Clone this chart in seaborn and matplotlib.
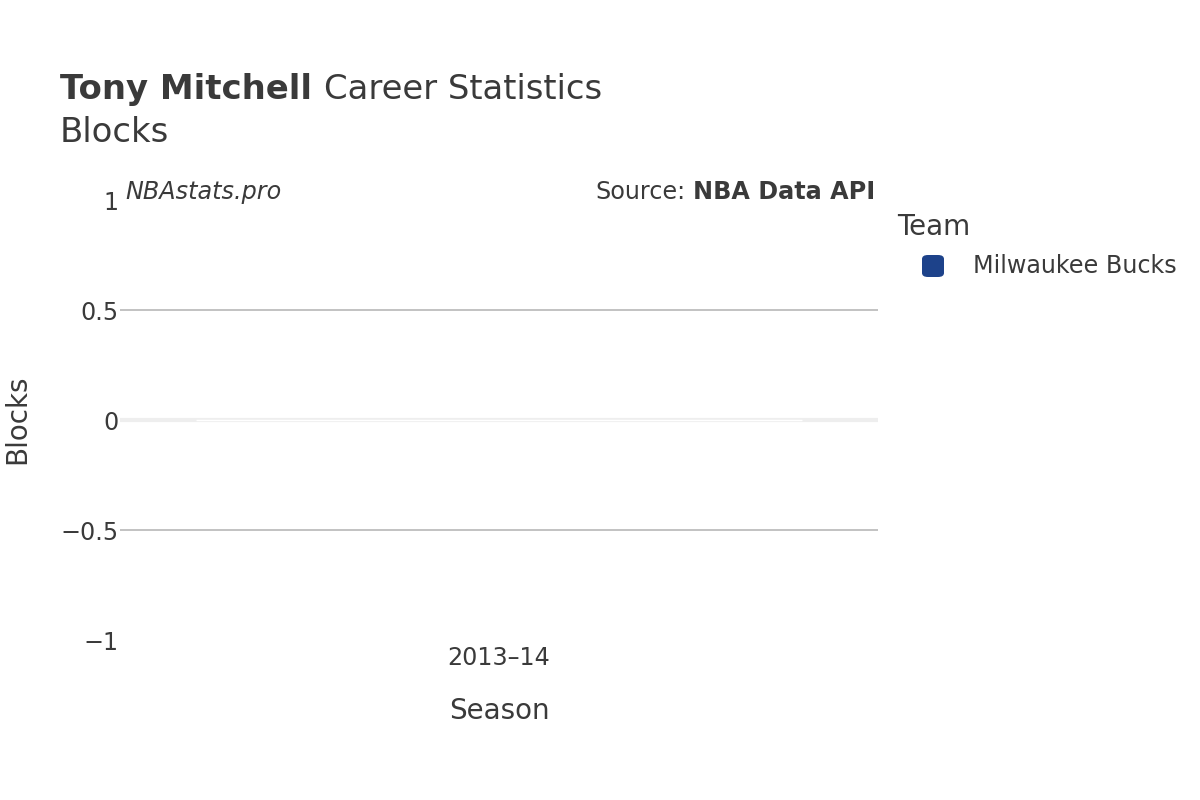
import matplotlib
matplotlib.use("Agg")
import matplotlib.pyplot as plt
import seaborn as sns
import pandas as pd
from matplotlib.patches import FancyBboxPatch

seasons = ["2013–14"]
blocks = [0.0]
teams = ["Milwaukee Bucks"]
team_colors = {"Milwaukee Bucks": "#1d428a"}

df = pd.DataFrame({"Season": seasons, "Blocks": blocks, "Team": teams})

sns.set_theme(style="white")
plt.rcParams["font.family"] = ["DejaVu Sans"]
txt = "#3a3a3a"
small = 17.2
axfs = 20
titlefs = 24.4

fig = plt.figure(figsize=(12, 8), dpi=100)
ax = fig.add_axes([0.1, 0.2, 0.7317 - 0.1, 0.55])

sns.barplot(data=df, x="Season", y="Blocks", hue="Team", palette=team_colors,
            ax=ax, legend=False, width=0.8)

ax.set_ylim(-1, 1)
ax.set_yticks([-1, -0.5, 0, 0.5, 1])
ax.set_yticklabels(["−1", "−0.5", "0", "0.5", "1"])
for y in [-0.5, 0.5]:
    ax.axhline(y, color="#bdbdbd", lw=1.3, zorder=0)
ax.axhline(0, color="#eeeeee", lw=3, zorder=0)
for s in ax.spines.values():
    s.set_visible(False)
ax.tick_params(axis="both", length=0, labelsize=small, colors=txt)
ax.tick_params(axis="y", pad=1)
ax.tick_params(axis="x", pad=4.5)
ax.set_xlabel("Season", fontsize=axfs, color=txt)
ax.set_ylabel("Blocks", fontsize=axfs, color=txt)
ax.yaxis.set_label_coords(17/1200, 1 - 419/800, transform=fig.transFigure)
ax.xaxis.set_label_coords(499/1200, 1 - 711/800, transform=fig.transFigure)
ax.xaxis.label.set_va("center")
ax.yaxis.label.set_va("center")

fig.text(60/1200, 1 - 99/800, "Tony Mitchell", fontsize=titlefs, fontweight="bold", color=txt)
fig.text(324/1200, 1 - 99/800, "Career Statistics", fontsize=titlefs, color=txt)
fig.text(60/1200, 1 - 142/800, "Blocks", fontsize=titlefs, color=txt)

fig.text(125/1200, 1 - 199/800, "NBAstats.pro", fontsize=small, style="italic", color=txt)
bold = fig.text(875/1200, 1 - 199/800, "NBA Data API", fontsize=small, fontweight="bold",
                color=txt, ha="right")
r = fig.canvas.get_renderer()
bb = bold.get_window_extent(renderer=r)
fig.text((bb.x0 - 7) / 1200, 1 - 199/800, "Source:", fontsize=small, color=txt, ha="right")

fig.text(897/1200, 1 - 227/800, "Team", fontsize=axfs, color=txt, va="center")
fig.patches.append(FancyBboxPatch((922/1200, 1 - 277/800), 22/1200, 22/800,
                                  boxstyle="round,pad=0,rounding_size=0.005",
                                  transform=fig.transFigure, facecolor=team_colors[teams[0]],
                                  edgecolor="none", figure=fig))
fig.text(973/1200, 1 - 266/800, teams[0], fontsize=small, color=txt, va="center")

fig.savefig("out.png", dpi=100, facecolor="white")
